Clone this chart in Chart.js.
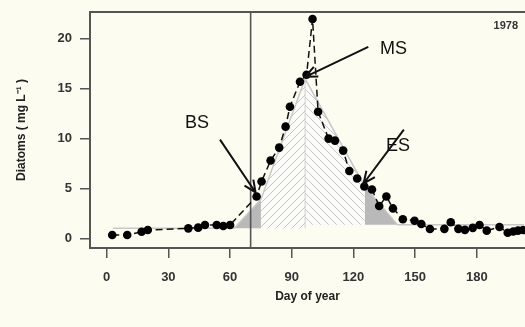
<!DOCTYPE html>
<html>
<head>
<meta charset="utf-8">
<script src="https://cdn.jsdelivr.net/npm/chart.js@4"></script>
<style>
  html, body { margin: 0; padding: 0; background: #fcfcf1; }
  #wrap { width: 525px; height: 327px; }
</style>
</head>
<body>
<div id="wrap"><canvas id="diatomChart" width="525" height="327"></canvas></div>
<script>
// Diatom biomass samples, 1978
const sampleDays = [2.7, 10, 17, 20, 39.7, 44.5, 47.8, 53.5, 56.7, 60,
    72.9, 75.3, 79.7, 83.9, 87, 89.1, 94, 97.2, 100.1, 102.8,
    107.9, 111, 115, 118, 121.8, 125.3, 129, 132.5, 136, 139.2,
    144, 149.7, 153, 157.2, 164.2, 167.3, 171, 174.2, 178, 181.3,
    184.8, 191, 195, 197.7, 200, 202.5];
const diatoms = [0.33, 0.33, 0.66, 0.83, 1.0, 1.07, 1.34, 1.34, 1.24, 1.34,
    4.2, 5.7, 7.8, 9.1, 11.2, 13.2, 15.7, 16.4, 22.0, 12.7,
    10.0, 9.8, 8.8, 6.75, 6.0, 5.2, 4.9, 3.24, 4.2, 3.0,
    1.92, 1.77, 1.44, 0.93, 0.95, 1.62, 0.95, 0.85, 1.05, 1.33,
    0.77, 1.13, 0.56, 0.68, 0.77, 0.83];

// Fitted bloom curve (piecewise) and its baseline
const fitDays = [3, 62, 75, 96.5, 125.5, 141.5, 203];
const fitValues = [1.0, 1.0, 3.9, 16.0, 5.2, 1.35, 1.35];
const baseBefore = 1.0;   // baseline under the rising phase
const baseAfter = 1.35;   // baseline under the falling phase

const startDay = 70;
const xTicks = [0, 30, 60, 90, 120, 150, 180];
const yTicks = [0, 5, 10, 15, 20];
const yearLabel = '1978';

// stage labels with arrows: text position, arrow tail, arrow tip (data units)
const stages = [
    { name: 'BS', at: [43.9, 11.6], from: [55.1, 9.9], to: [72.4, 4.6] },
    { name: 'MS', at: [139.5, 19.0], from: [127.2, 19.2], to: [96.6, 16.2] },
    { name: 'ES', at: [141.7, 9.3], from: [144.5, 10.9], to: [124.9, 5.5] }
];

const pts = (xs, ys) => xs.map((x, i) => ({ x: x, y: ys[i] }));
const fitPts = pts(fitDays, fitValues);
const FONT = '"Liberation Sans", Arial, sans-serif';

function hatch(dir) {
    const s = 8;
    const c = document.createElement('canvas');
    c.width = c.height = s;
    const g = c.getContext('2d');
    g.fillStyle = '#fbfbf7';
    g.fillRect(0, 0, s, s);
    g.strokeStyle = '#c6c6c6';
    g.lineWidth = 1;
    g.beginPath();
    if (dir > 0) {
        g.moveTo(-1, s + 1); g.lineTo(s + 1, -1);
        g.moveTo(-1, 1); g.lineTo(1, -1);
        g.moveTo(s - 1, s + 1); g.lineTo(s + 1, s - 1);
    } else {
        g.moveTo(-1, -1); g.lineTo(s + 1, s + 1);
        g.moveTo(s - 1, -1); g.lineTo(s + 1, 1);
        g.moveTo(-1, s - 1); g.lineTo(1, s + 1);
    }
    g.stroke();
    return g.createPattern(c, 'repeat');
}

const phaseFill = (a, b, base, bg) => ({
    data: fitPts.slice(a, b + 1),
    fill: { value: base },
    backgroundColor: bg,
    borderWidth: 0,
    pointRadius: 0,
    order: 5
});

const framePlugin = {
    id: 'frame',
    afterDatasetsDraw(chart) {
        const { ctx, chartArea, scales } = chart;
        ctx.save();
        // top frame line
        ctx.strokeStyle = '#555';
        ctx.lineWidth = 2;
        ctx.beginPath();
        ctx.moveTo(chartArea.left - 1, chartArea.top);
        ctx.lineTo(chartArea.right, chartArea.top);
        ctx.stroke();

        // stage labels and arrows
        ctx.strokeStyle = '#111';
        ctx.fillStyle = '#111';
        ctx.lineWidth = 2;
        ctx.font = '18px ' + FONT;
        ctx.textAlign = 'center';
        ctx.textBaseline = 'middle';
        stages.forEach(st => {
            const x0 = scales.x.getPixelForValue(st.from[0]);
            const y0 = scales.y.getPixelForValue(st.from[1]);
            const x1 = scales.x.getPixelForValue(st.to[0]);
            const y1 = scales.y.getPixelForValue(st.to[1]);
            const ang = Math.atan2(y1 - y0, x1 - x0);
            const head = 13, spread = 0.42;
            ctx.beginPath();
            ctx.moveTo(x0, y0);
            ctx.lineTo(x1, y1);
            ctx.moveTo(x1 - head * Math.cos(ang - spread), y1 - head * Math.sin(ang - spread));
            ctx.lineTo(x1, y1);
            ctx.lineTo(x1 - head * Math.cos(ang + spread), y1 - head * Math.sin(ang + spread));
            ctx.stroke();
            ctx.fillText(st.name, scales.x.getPixelForValue(st.at[0]), scales.y.getPixelForValue(st.at[1]));
        });

        ctx.font = 'bold 11px ' + FONT;
        ctx.textAlign = 'right';
        ctx.fillStyle = '#333';
        ctx.fillText(yearLabel, chartArea.right - 7, chartArea.top + 14);
        ctx.restore();
    }
};

new Chart(document.getElementById('diatomChart'), {
    type: 'line',
    data: {
        datasets: [
            {
                label: 'Diatoms',
                data: pts(sampleDays, diatoms),
                borderColor: '#111',
                borderWidth: 1.5,
                borderDash: [7, 4],
                pointRadius: 4.3,
                pointBackgroundColor: '#000',
                pointBorderWidth: 0,
                fill: false,
                order: 0
            },
            {
                label: 'start',
                data: [{ x: startDay, y: -1 }, { x: startDay, y: 23 }],
                borderColor: '#555',
                borderWidth: 1.6,
                pointRadius: 0,
                fill: false,
                order: 1
            },
            {
                label: 'fit',
                data: fitPts,
                borderColor: '#c8c8c8',
                borderWidth: 1.5,
                pointRadius: 0,
                fill: false,
                order: 2
            },
            {
                label: 'peak divider',
                data: [{ x: fitDays[3], y: baseBefore }, { x: fitDays[3], y: fitValues[3] }],
                borderColor: '#cfcfcf',
                borderWidth: 1,
                pointRadius: 0,
                fill: false,
                order: 3
            },
            phaseFill(1, 2, baseBefore, '#b9b9b9'),
            phaseFill(2, 3, baseBefore, hatch(1)),
            phaseFill(3, 4, baseAfter, hatch(-1)),
            phaseFill(4, 5, baseAfter, '#b9b9b9')
        ]
    },
    options: {
        responsive: false,
        animation: false,
        layout: { autoPadding: false, padding: { top: 12, right: 0, left: 0, bottom: 0 } },
        plugins: { legend: { display: false }, tooltip: { enabled: false } },
        scales: {
            x: {
                type: 'linear',
                min: -8.1,
                max: 203.4,
                afterFit: s => {
                    s.height = 79;
                    s.paddingLeft = 0;
                    s.paddingRight = 0;
                },
                afterBuildTicks: s => { s.ticks = xTicks.map(v => ({ value: v })); },
                grid: { drawOnChartArea: false, tickLength: 10, color: '#555', lineWidth: 1.5 },
                border: { color: '#555', width: 2 },
                ticks: {
                    color: '#333',
                    padding: 12,
                    maxRotation: 0,
                    font: { family: FONT, size: 13, weight: 'bold' }
                },
                title: {
                    display: true,
                    text: 'Day of year',
                    color: '#222',
                    padding: { top: 0, bottom: 23 },
                    font: { family: FONT, size: 12, weight: 'bold' }
                }
            },
            y: {
                type: 'linear',
                min: -0.97,
                max: 22.7,
                afterFit: s => {
                    s.width = 90;
                    s.paddingTop = 0;
                    s.paddingBottom = 0;
                },
                afterBuildTicks: s => { s.ticks = yTicks.map(v => ({ value: v })); },
                grid: { drawOnChartArea: false, tickLength: 10, color: '#555', lineWidth: 1.5 },
                border: { color: '#555', width: 2 },
                ticks: {
                    color: '#333',
                    padding: 8,
                    font: { family: FONT, size: 13, weight: 'bold' }
                },
                title: {
                    display: true,
                    text: 'Diatoms ( mg L\u207B\u00B9 )',
                    color: '#222',
                    padding: { top: 14, bottom: 0 },
                    font: { family: FONT, size: 12, weight: 'bold' }
                }
            }
        }
    },
    plugins: [framePlugin]
});
</script>
</body>
</html>
